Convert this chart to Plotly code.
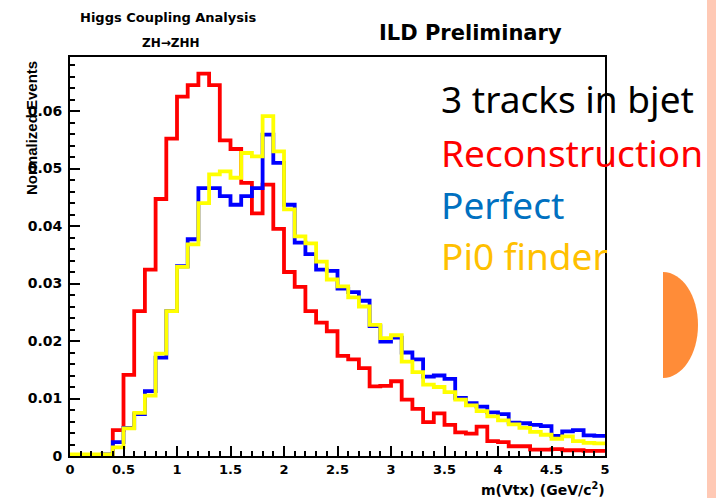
import plotly.graph_objects as go

# ---------------- data ----------------
bin_lo = [round(0.1 * i, 1) for i in range(50)]
x_max = 5.0

reconstruction = [0, 0, 0, 0, 0.0045, 0.0141, 0.0252, 0.0324, 0.0447, 0.0552,
                  0.0625, 0.0645, 0.0665, 0.0645, 0.0549, 0.0534, 0.0475, 0.0422, 0.0472, 0.0395,
                  0.0320, 0.0294, 0.0252, 0.0232, 0.0217, 0.0174, 0.0168, 0.0153, 0.0121, 0.0122,
                  0.0130, 0.0098, 0.0082, 0.0059, 0.0074, 0.0054, 0.0041, 0.0039, 0.0051, 0.0026,
                  0.0024, 0.0017, 0.0017, 0.0011, 0.0011, 0.0012, 0.0010, 0.0010, 0.0009, 0.0009]

perfect = [0, 0, 0, 0.0003, 0.0024, 0.0049, 0.0073, 0.0113, 0.0171, 0.0252,
           0.0330, 0.0377, 0.0466, 0.0466, 0.0452, 0.0437, 0.0452, 0.0466, 0.0559, 0.0510,
           0.0437, 0.0371, 0.0351, 0.0324, 0.0322, 0.0291, 0.0285, 0.0270, 0.0226, 0.0199,
           0.0206, 0.0180, 0.0168, 0.0138, 0.0140, 0.0134, 0.0101, 0.0092, 0.0086, 0.0076,
           0.0073, 0.0058, 0.0057, 0.0054, 0.0052, 0.0035, 0.0043, 0.0045, 0.0036, 0.0035]

pi0_finder = [0.0003, 0.0003, 0.0003, 0.0003, 0.0015, 0.0048, 0.0075, 0.0105, 0.0178, 0.0252,
              0.0329, 0.0368, 0.0440, 0.0490, 0.0495, 0.0484, 0.0527, 0.0521, 0.0591, 0.0530,
              0.0429, 0.0382, 0.0370, 0.0338, 0.0307, 0.0295, 0.0276, 0.0260, 0.0228, 0.0205,
              0.0210, 0.0164, 0.0146, 0.0124, 0.0120, 0.0111, 0.0098, 0.0088, 0.0078, 0.0069,
              0.0062, 0.0055, 0.0049, 0.0042, 0.0037, 0.0030, 0.0034, 0.0026, 0.0023, 0.0022]

series = [("Reconstruction", reconstruction, "#FF0000"),
          ("Perfect", perfect, "#0000FF"),
          ("Pi0 finder", pi0_finder, "#FFFF00")]

# ---------------- layout geometry ----------------
W, H = 726, 498
L, R, T, B = 70, 605, 57, 456


def px_x(p):
    return (p - L) / (R - L)


def px_y(p):
    return (B - p) / (B - T)


fig = go.Figure()
for name, vals, col in series:
    fig.add_trace(go.Scatter(
        x=bin_lo + [x_max], y=vals + [vals[-1]],
        mode="lines", line=dict(color=col, width=3.8, shape="hv"),
        name=name, showlegend=False, hoverinfo="skip"))

bold = dict(family="DejaVu Sans", color="black", weight="bold")

axis_common = dict(
    showline=True, linecolor="black", linewidth=2, mirror=True,
    ticks="inside", tickcolor="black", tickwidth=2, ticklen=10,
    showgrid=False, zeroline=False,
)

fig.update_xaxes(range=[0, x_max], dtick=0.5, tick0=0,
                 minor=dict(ticks="inside", ticklen=5, tickwidth=1.5, tickcolor="black", dtick=0.1),
                 tickfont=dict(size=13, **bold),
                 **axis_common)
fig.update_yaxes(range=[0, 0.0694], dtick=0.01, tick0=0,
                 minor=dict(ticks="inside", ticklen=5, tickwidth=1.5, tickcolor="black", dtick=0.002),
                 ticklabelstandoff=3, tickfont=dict(size=14, **bold),
                 **axis_common)

annotations = [
    dict(text="Higgs Coupling Analysis", x=px_x(168), y=px_y(17),
         font=dict(size=13, **bold), xanchor="center", yanchor="middle"),
    dict(text="ZH→ZHH", x=px_x(171), y=px_y(43),
         font=dict(size=12, **bold), xanchor="center", yanchor="middle"),
    dict(text="ILD Preliminary", x=px_x(470), y=px_y(33),
         font=dict(size=21, **bold), xanchor="center", yanchor="middle"),
    dict(text="m(Vtx) (GeV/c<sup>2</sup>)", x=px_x(607), y=px_y(489),
         font=dict(size=14, **bold), xanchor="right", yanchor="middle"),
    dict(text="Normalized Events", x=px_x(31), y=px_y(59), textangle=-90,
         font=dict(size=15, family="Liberation Sans", color="black", weight="bold"),
         xanchor="center", yanchor="top"),
    dict(text="3 tracks in bjet", x=px_x(439), y=px_y(98),
         font=dict(size=37, family="Noto Sans", color="black"), xanchor="left", yanchor="middle"),
    dict(text="Reconstruction", x=px_x(439), y=px_y(152),
         font=dict(size=37, family="Noto Sans", color="#FF0000"), xanchor="left", yanchor="middle"),
    dict(text="Perfect", x=px_x(439), y=px_y(204),
         font=dict(size=37, family="Noto Sans", color="#0070C0"), xanchor="left", yanchor="middle"),
    dict(text="Pi0 finder", x=px_x(439), y=px_y(255),
         font=dict(size=37, family="Noto Sans", color="#FFC000"), xanchor="left", yanchor="middle"),
]
for a in annotations:
    a.update(xref="paper", yref="paper", showarrow=False)

# decorative slide elements: pink stripe and orange half-disc
k = 0.5523
cx, cy, rx, ry = 663, 325, 35, 53
pts = [(cx, cy - ry), (cx + k * rx, cy - ry), (cx + rx, cy - k * ry), (cx + rx, cy),
       (cx + rx, cy + k * ry), (cx + k * rx, cy + ry), (cx, cy + ry)]
pp = [(px_x(a), px_y(b)) for a, b in pts]
path = "M {:.5f},{:.5f} C {:.5f},{:.5f} {:.5f},{:.5f} {:.5f},{:.5f} C {:.5f},{:.5f} {:.5f},{:.5f} {:.5f},{:.5f} Z".format(
    *[c for p in pp for c in p])

shapes = [
    dict(type="rect", xref="paper", yref="paper", x0=px_x(707), x1=px_x(716), y0=px_y(0), y1=px_y(H),
         fillcolor="#FFC9B5", line=dict(width=0), layer="below"),
    dict(type="path", xref="paper", yref="paper", path=path,
         fillcolor="#FF8C38", line=dict(width=0)),
]

fig.update_layout(
    width=W, height=H,
    margin=dict(l=L, r=W - R, t=T, b=H - B, pad=0),
    paper_bgcolor="white", plot_bgcolor="white",
    annotations=annotations, shapes=shapes,
    showlegend=False,
)

fig.write_html("out.html", config={"displayModeBar": False},
               post_script="document.body.style.margin='0';document.body.style.padding='0';")
